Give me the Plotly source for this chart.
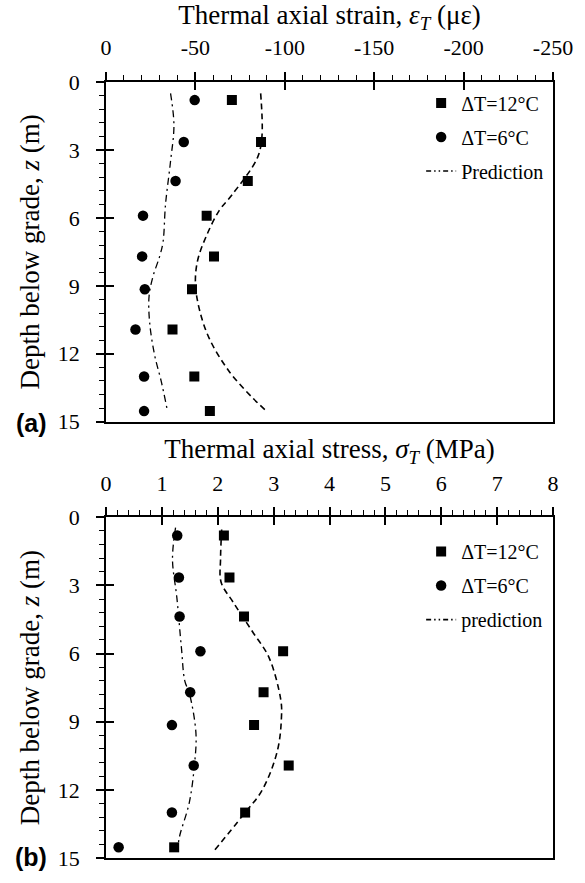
import plotly.graph_objects as go

# ---------------- data ----------------
depth_pts = [0.8, 2.65, 4.37, 5.9, 7.7, 9.15, 10.93, 13.0, 14.53]

strain_12 = [-70.4, -86.7, -79.3, -56.3, -60.4, -48.1, -37.2, -49.4, -58.1]
strain_6 = [-49.6, -43.5, -38.9, -20.7, -20.2, -21.7, -16.5, -21.3, -21.3]

stress_12 = [2.11, 2.21, 2.47, 3.17, 2.82, 2.65, 3.27, 2.49, 1.22]
stress_6 = [1.275, 1.305, 1.317, 1.69, 1.507, 1.18, 1.57, 1.18, 0.226]

# prediction curves, panel (a)
pred_a12_z = [0.5, 2.42, 3.36, 4.96, 5.68, 6.84, 7.86, 8.87, 10.03, 11.33, 12.78, 13.94, 14.5]
pred_a12_v = [-86.5, -87.2, -84.6, -70.7, -63.3, -55.9, -51.3, -50.0, -52.2, -57.8, -68.9, -81.9, -89.3]
pred_a6_z = [0.5, 1.91, 3.5, 5.39, 7.06, 7.7, 8.58, 9.45, 10.61, 12.06, 13.22, 14.41]
pred_a6_v = [-36.1, -38.0, -36.1, -33.3, -31.9, -30.0, -26.3, -24.1, -24.4, -27.2, -30.9, -34.1]

# prediction curves, panel (b)
pred_b12_z = [0.54, 1.84, 2.86, 3.72, 5.03, 6.19, 8.07, 8.8, 10.25, 11.99, 13.15, 14.67]
pred_b12_v = [2.07, 2.05, 2.06, 2.27, 2.62, 2.92, 3.13, 3.14, 3.07, 2.80, 2.44, 1.94]
pred_b6_z = [0.46, 1.84, 3.58, 5.75, 7.2, 7.78, 9.52, 10.97, 12.57, 14.01, 14.45]
pred_b6_v = [1.245, 1.19, 1.27, 1.35, 1.41, 1.495, 1.61, 1.58, 1.49, 1.32, 1.29]

strain_tickvals = [0, -50, -100, -150, -200, -250]
strain_ticktext = ["0", "-50", "-100", "-150", "-200", "-250"]
stress_tickvals = [0, 1, 2, 3, 4, 5, 6, 7, 8]
stress_ticktext = ["0", "1", "2", "3", "4", "5", "6", "7", "8"]
depth_tickvals = [0, 3, 6, 9, 12, 15]
depth_ticktext = ["0", "3", "6", "9", "12", "15"]

legend_a = ["ΔT=12°C", "ΔT=6°C", "Prediction"]
legend_b = ["ΔT=12°C", "ΔT=6°C", "prediction"]

# ---------------- styling ----------------
SERIF = "Liberation Serif"
BLACK = "#000000"
DASH = "6px,4px"
DASHDOT = "7px,4px,2px,4px"
LEG_DASH = "5px,3px,1.5px,3px,1.5px,3px"

fig = go.Figure()


def add_panel(xa, ya, leg, v12, v6, p12z, p12v, p6z, p6v, names):
    fig.add_trace(go.Scatter(x=v12, y=depth_pts, mode="markers", name=names[0],
                             marker=dict(symbol="square", size=10, color=BLACK),
                             xaxis=xa, yaxis=ya, legend=leg, legendgroup=leg + "1"))
    fig.add_trace(go.Scatter(x=v6, y=depth_pts, mode="markers", name=names[1],
                             marker=dict(symbol="circle", size=10.5, color=BLACK),
                             xaxis=xa, yaxis=ya, legend=leg, legendgroup=leg + "2"))
    fig.add_trace(go.Scatter(x=p12v, y=p12z, mode="lines", showlegend=False,
                             line=dict(color=BLACK, width=1.6, dash=DASH, shape="spline"),
                             xaxis=xa, yaxis=ya))
    fig.add_trace(go.Scatter(x=p6v, y=p6z, mode="lines", showlegend=False,
                             line=dict(color=BLACK, width=1.3, dash=DASHDOT, shape="spline"),
                             xaxis=xa, yaxis=ya))
    fig.add_trace(go.Scatter(x=[None], y=[None], mode="lines", name=names[2],
                             line=dict(color=BLACK, width=1.6, dash=LEG_DASH),
                             xaxis=xa, yaxis=ya, legend=leg, legendgroup=leg + "3"))


add_panel("x", "y", "legend", strain_12, strain_6, pred_a12_z, pred_a12_v,
          pred_a6_z, pred_a6_v, legend_a)
add_panel("x2", "y2", "legend2", stress_12, stress_6, pred_b12_z, pred_b12_v,
          pred_b6_z, pred_b6_v, legend_b)

# dummy traces so the overlay (inner-tick) axes are drawn
fig.add_trace(go.Scatter(x=[None], y=[None], xaxis="x3", yaxis="y3", showlegend=False, hoverinfo="skip"))
fig.add_trace(go.Scatter(x=[None], y=[None], xaxis="x4", yaxis="y4", showlegend=False, hoverinfo="skip"))

tickfont = dict(family=SERIF, size=22, color=BLACK)
titlefont = dict(family=SERIF, size=27, color=BLACK)

dom_a = [0.5622, 1.0]
dom_b = [0.0, 0.4391]


def xaxis_main(rng, tv, tt, minor_dt, anchor, title):
    return dict(domain=[0, 1], anchor=anchor, side="top", range=rng,
                tickvals=tv, ticktext=tt, ticks="outside", ticklen=8, tickwidth=1.5,
                tickcolor=BLACK, ticklabelstandoff=8,
                minor=dict(dtick=minor_dt, tick0=0, ticks="outside", ticklen=5,
                           tickwidth=1.2, tickcolor=BLACK),
                showline=True, linewidth=1.8, linecolor=BLACK, mirror=True,
                showgrid=False, zeroline=False, tickfont=tickfont,
                title=dict(text=title, font=titlefont, standoff=4))


def yaxis_main(dom, anchor, title):
    return dict(domain=dom, anchor=anchor, range=[15, 0],
                tickvals=depth_tickvals, ticktext=depth_ticktext, ticks="outside",
                ticklen=8, tickwidth=1.5, tickcolor=BLACK, ticklabelstandoff=12,
                minor=dict(dtick=0.6, tick0=0, ticks="outside", ticklen=5,
                           tickwidth=1.2, tickcolor=BLACK),
                showline=True, linewidth=1.8, linecolor=BLACK, mirror=True,
                showgrid=False, zeroline=False, tickfont=tickfont,
                title=dict(text=title, font=titlefont, standoff=10))


def x_inner(rng, tv, overlay, anchor):
    return dict(overlaying=overlay, anchor=anchor, side="top", range=rng,
                tickvals=tv, ticks="inside", ticklen=8, tickwidth=1.5, tickcolor=BLACK,
                showticklabels=False, showline=False, showgrid=False, zeroline=False)


def y_inner(overlay, anchor):
    return dict(overlaying=overlay, anchor=anchor, side="left", range=[15, 0],
                tickvals=depth_tickvals, ticks="inside", ticklen=8, tickwidth=1.5,
                tickcolor=BLACK, showticklabels=False, showline=False,
                showgrid=False, zeroline=False)


ytitle = "Depth below grade, <i>z</i> (m)"

fig.update_layout(
    width=585, height=883,
    margin=dict(l=106, r=29, t=79, b=16),
    paper_bgcolor="white", plot_bgcolor="white",
    font=dict(family=SERIF, color=BLACK),
    xaxis=xaxis_main([0, -250], strain_tickvals, strain_ticktext, 10, "y",
                     "Thermal axial strain, <i>ε</i><sub><i>T</i></sub> (με)"),
    yaxis=yaxis_main(dom_a, "x", ytitle),
    xaxis2=xaxis_main([0, 8], stress_tickvals, stress_ticktext, 0.2, "y2",
                      "Thermal axial stress, <i>σ</i><sub><i>T</i></sub> (MPa)"),
    yaxis2=yaxis_main(dom_b, "x2", ytitle),
    xaxis3=x_inner([0, -250], strain_tickvals, "x", "y"),
    yaxis3=y_inner("y", "x"),
    xaxis4=x_inner([0, 8], stress_tickvals, "x2", "y2"),
    yaxis4=y_inner("y2", "x2"),
    legend=dict(x=0.705, y=0.998, xanchor="left", yanchor="top",
                font=dict(family=SERIF, size=20, color=BLACK),
                bgcolor="rgba(0,0,0,0)", traceorder="grouped", tracegroupgap=5),
    legend2=dict(x=0.705, y=0.42, xanchor="left", yanchor="top",
                 font=dict(family=SERIF, size=20, color=BLACK),
                 bgcolor="rgba(0,0,0,0)", traceorder="grouped", tracegroupgap=5),
    showlegend=True,
    annotations=[
        dict(text="<b>(a)</b>", x=-0.1667, y=0.5609, xref="paper", yref="paper",
             xanchor="center", yanchor="middle", showarrow=False,
             font=dict(family="Liberation Sans", size=25, color=BLACK)),
        dict(text="<b>(b)</b>", x=-0.1667, y=0.0013, xref="paper", yref="paper",
             xanchor="center", yanchor="middle", showarrow=False,
             font=dict(family="Liberation Sans", size=25, color=BLACK)),
    ],
)

fig.write_html("out.html")
